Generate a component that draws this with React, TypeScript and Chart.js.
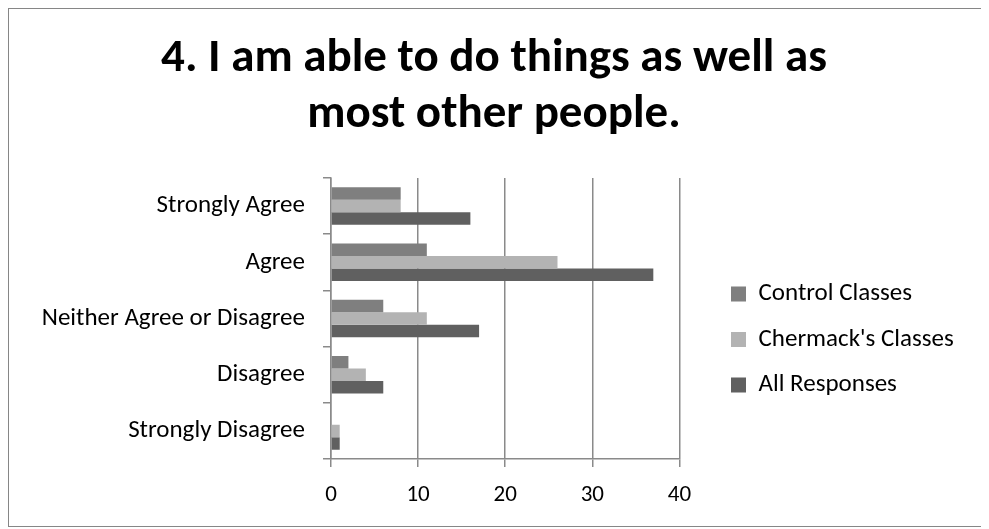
import React, { useEffect, useRef } from 'react';
import { Chart, registerables } from 'chart.js';

Chart.register(...registerables);

const titleLines = ['4. I am able to do things as well as', 'most other people.'];
const categories = ['Strongly Agree', 'Agree', 'Neither Agree or Disagree', 'Disagree', 'Strongly Disagree'];
const seriesNames = ['Control Classes', "Chermack's Classes", 'All Responses'];
const controlClasses = [8, 11, 6, 2, 0];
const chermackClasses = [8, 26, 11, 4, 1];
const allResponses = [16, 37, 17, 6, 1];
const xMin = 0;
const xMax = 40;
const xStep = 10;

const FONT = 'Carlito, Calibri, Lato, sans-serif';
const GRID = '#8a8a8a';
const COLORS = ['#7f7f7f', '#b3b3b3', '#606060'];

const W = 983;
const H = 517;
const AREA = { left: 322, right: 669, top: 169, bottom: 450 };
const LABEL_SIZE = 25;
const TICK_SIZE = 23;
const LEG_PAD = 20.5;
const LEG_BOX = 15;
const LEG_BOX_X = 722;
const LEG_FIRST_ROW_TOP = 272.5;
const TITLE_CENTER = 485;

export default function App() {
  const ref = useRef<HTMLCanvasElement>(null);

  useEffect(() => {
    if (!ref.current) return;
    document.documentElement.style.overflow = 'hidden';
    document.body.style.overflow = 'hidden';

    const mctx = document.createElement('canvas').getContext('2d')!;
    mctx.font = `${LABEL_SIZE}px ${FONT}`;
    const maxText = Math.max(...seriesNames.map((s) => mctx.measureText(s).width));
    const legendW = LEG_PAD + LEG_BOX + maxText;
    const padRight = Math.max(0, W - AREA.right - legendW);

    const placeBoxes = {
      id: 'placeBoxes',
      afterLayout(chart: any) {
        const l = chart.legend;
        if (l) {
          const colH = seriesNames.length * (LABEL_SIZE + LEG_PAD);
          l.left = LEG_BOX_X - LEG_PAD;
          l.right = W;
          l.width = l.right - l.left;
          l.top = LEG_FIRST_ROW_TOP - LEG_PAD;
          l.bottom = l.top + LEG_PAD + colH;
          l.height = l.bottom - l.top;
        }
        const t = chart.titleBlock;
        if (t) {
          t.left = 0;
          t.right = TITLE_CENTER * 2;
          t.width = t.right;
        }
      },
    };

    const series = [controlClasses, chermackClasses, allResponses];
    const chart: any = new Chart(ref.current, {
      type: 'bar',
      data: {
        labels: categories,
        datasets: series.map((d, i) => ({
          label: seriesNames[i],
          data: d,
          backgroundColor: COLORS[i],
          borderWidth: 0,
        })),
      },
      options: {
        indexAxis: 'y',
        animation: false,
        responsive: false,
        maintainAspectRatio: false,
        layout: { padding: { left: 0, right: padRight, top: 0, bottom: 0 } },
        datasets: { bar: { categoryPercentage: 0.667, barPercentage: 1 } },
        plugins: {
          title: {
            display: true,
            text: titleLines,
            color: '#000',
            font: { family: FONT, size: 47, weight: 'bold', lineHeight: 1.2 },
            padding: { top: 21.8, bottom: AREA.top - 21.8 - 2 * 47 * 1.2 },
          },
          legend: {
            position: 'right',
            labels: {
              boxWidth: LEG_BOX,
              boxHeight: LEG_BOX,
              padding: LEG_PAD,
              color: '#000',
              font: { family: FONT, size: LABEL_SIZE },
            },
          },
          tooltip: { enabled: false },
        },
        scales: {
          x: {
            min: xMin,
            max: xMax,
            afterFit: (scale: any) => {
              scale.height = H - AREA.bottom;
            },
            ticks: { stepSize: xStep, color: '#000', font: { family: FONT, size: TICK_SIZE }, padding: 14 },
            grid: { color: GRID, lineWidth: 1.5, tickLength: 8, drawTicks: true },
            border: { color: GRID, width: 1.5 },
          },
          y: {
            afterFit: (scale: any) => {
              scale.width = AREA.left;
            },
            ticks: { color: '#000', font: { family: FONT, size: LABEL_SIZE }, padding: 18 },
            grid: { color: GRID, lineWidth: 1.5, drawOnChartArea: false, drawTicks: true, tickLength: 8, offset: true },
            border: { color: GRID, width: 1.5 },
          },
        },
      },
      plugins: [placeBoxes],
    } as any);

    const diff = chart.chartArea.right - AREA.right;
    if (Math.abs(diff) > 0.1) {
      chart.options.layout.padding.right = padRight + diff;
      chart.update();
    }
    return () => chart.destroy();
  }, []);

  return (
    <div
      style={{
        width: W,
        height: H,
        borderTop: '1px solid #868686',
        borderLeft: '1px solid #868686',
        borderBottom: '1px solid #868686',
      }}
    >
      <canvas ref={ref} width={W} height={H} style={{ display: 'block' }} />
    </div>
  );
}
